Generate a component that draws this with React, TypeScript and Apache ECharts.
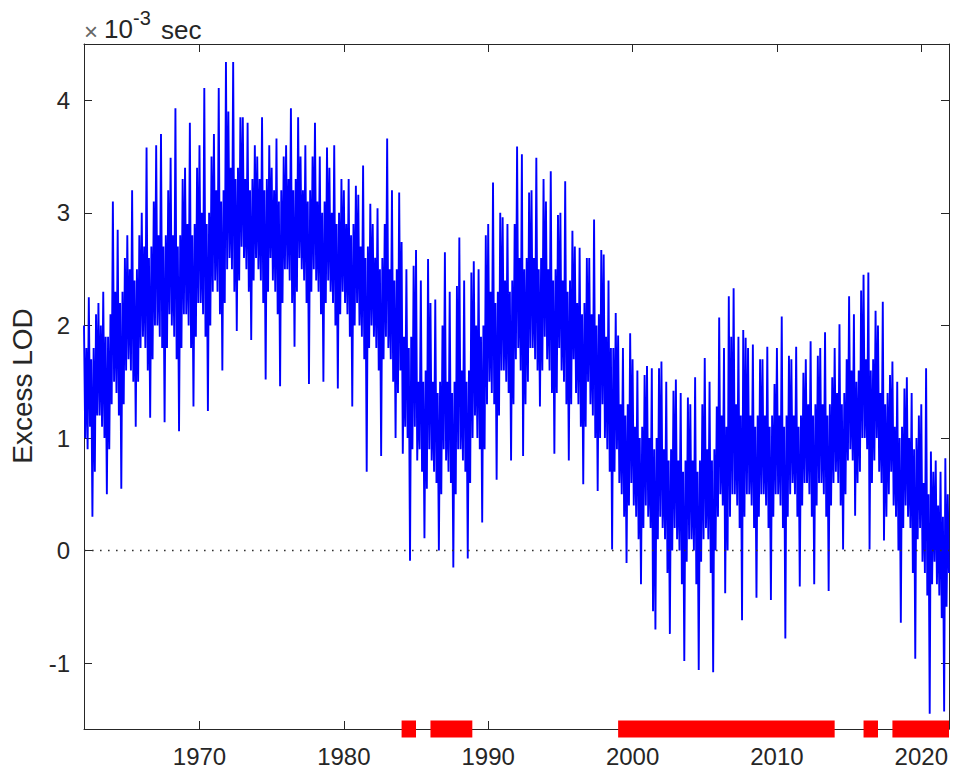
import React, { useEffect, useRef } from "react";
import * as echarts from "echarts";

// Excess LOD (x 10^-3 s), 12 readings per year starting 1962.0
const startYear = 1962;
const lod1960s = [
  2.0, 1.0, 1.8, 0.9, 2.25, 1.1, 1.7, 0.3, 1.8, 0.7, 2.1, 1.2,
  2.2, 1.2, 2.0, 1.1, 2.3, 1.0, 1.9, 0.5, 1.9, 0.9, 2.1, 1.3,
  3.1, 1.5, 2.3, 1.4, 2.85, 1.2, 2.2, 0.55, 2.3, 1.3, 2.6, 1.6,
  2.8, 1.7, 2.5, 1.6, 3.2, 1.5, 2.4, 1.1, 2.5, 1.5, 2.8, 1.8,
  3.0, 1.9, 2.7, 1.8, 3.58, 1.6, 2.6, 1.18, 2.7, 1.7, 3.1, 2.0,
  3.6, 2.0, 2.8, 1.9, 3.7, 1.8, 2.7, 1.14, 2.8, 1.8, 3.2, 2.1,
  3.49, 2.0, 2.8, 1.9, 3.93, 1.7, 2.7, 1.06, 2.8, 1.8, 3.3, 2.1,
  3.4, 2.1, 2.9, 2.0, 3.8, 1.8, 2.8, 1.28, 2.9, 1.9, 3.4, 2.2,
];
const lod1970s = [
  3.6, 2.2, 3.0, 2.1, 4.11, 1.9, 2.9, 1.24, 3.0, 2.0, 3.5, 2.3,
  3.7, 2.4, 3.2, 2.3, 4.11, 2.1, 3.1, 1.6, 3.2, 2.2, 4.34, 2.5,
  3.9, 2.6, 3.4, 2.5, 4.34, 2.3, 3.3, 1.95, 3.4, 2.4, 3.85, 2.7,
  3.85, 2.6, 3.3, 2.5, 3.8, 2.3, 3.2, 1.87, 3.3, 2.4, 3.6, 2.6,
  3.5, 2.5, 3.3, 2.4, 3.85, 2.2, 3.2, 1.52, 3.3, 2.3, 3.6, 2.6,
  3.4, 2.4, 3.2, 2.3, 3.66, 2.1, 3.1, 1.46, 3.2, 2.2, 3.5, 2.5,
  3.6, 2.5, 3.3, 2.4, 3.93, 2.2, 3.2, 1.81, 3.3, 2.3, 3.85, 2.6,
  3.5, 2.5, 3.2, 2.4, 3.6, 2.2, 3.1, 1.48, 3.2, 2.3, 3.5, 2.5,
  3.8, 2.4, 3.1, 2.3, 3.5, 2.1, 3.0, 1.5, 3.1, 2.2, 3.58, 2.4,
  3.4, 2.3, 3.0, 2.2, 3.6, 2.0, 2.9, 1.44, 3.0, 2.1, 3.3, 2.3,
];
const lod1980s = [
  3.2, 2.2, 2.9, 2.1, 3.3, 1.9, 2.8, 1.28, 2.9, 2.0, 3.24, 2.2,
  3.16, 2.0, 2.7, 1.9, 3.42, 1.7, 2.6, 0.7, 2.7, 1.8, 3.08, 2.0,
  2.9, 1.9, 2.6, 1.8, 3.04, 1.6, 2.5, 0.84, 2.6, 1.7, 2.9, 1.9,
  3.66, 1.8, 2.5, 1.7, 3.2, 1.5, 2.4, 1.0, 2.5, 1.4, 3.18, 1.6,
  2.74, 0.86, 1.9, 1.1, 2.5, 1.0, 1.8, -0.09, 1.9, 0.9, 2.53, 1.1,
  2.67, 0.8, 1.5, 0.9, 2.4, 0.7, 1.5, 0.11, 1.6, 0.55, 2.59, 0.9,
  2.2, 0.8, 1.5, 0.7, 2.23, 0.6, 1.4, 0.0, 1.5, 0.5, 2.0, 0.9,
  2.65, 0.8, 1.5, 0.7, 2.3, 0.6, 1.4, -0.15, 1.5, 0.5, 2.35, 0.9,
  2.78, 0.9, 1.6, 0.8, 2.4, 0.7, 1.5, -0.07, 1.6, 0.6, 2.47, 1.0,
  2.57, 1.2, 2.0, 1.0, 2.5, 0.9, 1.9, 0.25, 2.0, 0.9, 2.8, 1.3,
];
const lod1990s = [
  2.9, 1.5, 2.3, 1.4, 3.27, 1.3, 2.2, 0.63, 2.3, 1.2, 3.0, 1.6,
  2.96, 1.6, 2.4, 1.5, 2.9, 1.4, 2.3, 0.8, 2.4, 1.3, 2.9, 1.7,
  3.59, 1.8, 2.6, 1.6, 3.52, 0.84, 2.5, 1.3, 2.6, 1.5, 3.18, 1.8,
  3.2, 1.8, 2.6, 1.7, 3.49, 1.6, 2.5, 1.28, 2.6, 1.6, 3.3, 1.9,
  3.1, 1.7, 2.5, 1.6, 3.37, 1.4, 2.4, 0.86, 2.5, 1.4, 2.98, 1.8,
  3.0, 1.6, 2.4, 1.5, 3.28, 1.3, 2.3, 0.8, 2.4, 1.3, 2.84, 1.7,
  2.7, 1.4, 2.2, 1.3, 2.69, 1.1, 2.1, 0.59, 2.2, 1.1, 2.6, 1.5,
  2.6, 1.3, 2.1, 1.2, 2.94, 1.0, 2.0, 0.53, 2.1, 1.0, 2.67, 1.3,
  2.63, 1.0, 1.9, 0.9, 2.4, 0.7, 1.8, 0.01, 1.8, 0.7, 2.11, 0.9,
  1.91, 0.6, 1.3, 0.5, 1.8, 0.3, 1.2, -0.11, 1.3, 0.4, 1.93, 0.6,
];
const lod2000s = [
  1.7, 0.4, 1.1, 0.3, 1.6, 0.1, 1.0, -0.3, 1.1, 0.2, 1.56, 0.4,
  1.64, 0.3, 1.0, 0.2, 1.62, -0.54, 0.9, -0.7, 1.0, 0.1, 1.62, 0.3,
  1.68, 0.2, 0.9, 0.1, 1.5, -0.2, 0.8, -0.74, 0.9, 0.0, 1.42, 0.2,
  1.52, 0.1, 0.8, 0.0, 1.4, -0.3, 0.7, -0.98, 0.8, -0.1, 1.36, 0.1,
  1.3, 0.1, 0.8, 0.0, 1.54, -0.3, 0.7, -1.06, 0.8, -0.1, 1.3, 0.1,
  1.71, 0.2, 0.9, 0.1, 1.5, -0.2, 0.8, -1.08, 0.9, 0.0, 1.28, 0.3,
  2.07, 0.5, 1.2, 0.4, 1.8, -0.38, 1.1, 0.0, 2.26, 0.3, 1.9, 0.5,
  2.33, 0.5, 1.3, 0.4, 1.9, 0.2, 1.2, -0.62, 1.96, 0.3, 1.89, 0.5,
  1.8, 0.5, 1.2, 0.4, 1.83, 0.2, 1.1, -0.42, 1.2, 0.3, 1.7, 0.5,
  1.7, 0.5, 1.2, 0.4, 1.81, 0.2, 1.1, -0.44, 1.2, 0.3, 1.48, 0.5,
];
const lod2010s = [
  1.8, 0.5, 1.2, 0.4, 2.08, 0.2, 1.1, -0.78, 1.2, 0.3, 1.73, 0.5,
  1.7, 0.6, 1.2, 0.5, 1.81, 0.3, 1.1, -0.32, 1.2, 0.4, 1.58, 0.6,
  1.7, 0.6, 1.3, 0.5, 1.86, 0.3, 1.2, -0.3, 1.3, 0.4, 1.73, 0.6,
  1.8, 0.6, 1.3, 0.5, 1.94, 0.3, 1.2, -0.36, 1.3, 0.4, 1.54, 0.6,
  1.8, 0.7, 1.4, 0.6, 2.01, 0.4, 1.3, 0.01, 1.4, 0.5, 1.7, 0.8,
  2.26, 0.9, 1.6, 0.8, 2.1, 0.31, 1.5, 0.6, 1.6, 0.7, 2.31, 1.0,
  2.45, 1.0, 1.7, 0.9, 2.47, 0.01, 1.6, 0.6, 1.7, 0.8, 2.13, 1.0,
  2.0, 0.7, 1.4, 0.6, 2.21, 0.09, 1.3, 0.3, 1.4, 0.5, 1.56, 0.7,
  1.68, 0.4, 1.1, 0.3, 1.5, 0.0, 1.0, -0.64, 1.1, 0.2, 1.44, 0.4,
  1.54, 0.3, 1.0, 0.2, 1.4, -0.2, 0.9, -0.96, 1.0, 0.1, 1.2, 0.2,
];
const lod2020s = [
  1.3, -0.1, 0.6, -0.2, 1.62, -0.4, 0.5, -1.45, 0.88, -0.3, 0.7, -0.1,
  0.8, -0.3, 0.4, -0.4, 0.7, -0.6, 0.3, -1.43, 0.82, -0.5, 0.5, -0.2,
];

// periods marked in red along the bottom axis (years)
const redPeriods = [
  [1984.0, 1985.0],
  [1986.0, 1988.9],
  [1999.0, 2014.0],
  [2016.0, 2017.0],
  [2018.0, 2021.92],
];

const xTicks = [1970, 1980, 1990, 2000, 2010, 2020];
const yTicks = [-1, 0, 1, 2, 3, 4];
const xMin = 1962;
const xMax = 2021.92;
const yMin = -1.585;
const yMax = 4.5;

const FONT = "'Liberation Sans', Arial, Helvetica, sans-serif";
const AXIS_COLOR = "#262626";

export default function App() {
  const ref = useRef<HTMLDivElement>(null);

  useEffect(() => {
    if (!ref.current) return;
    const chart = echarts.init(ref.current, null, { renderer: "svg" });

    const values = [
      ...lod1960s,
      ...lod1970s,
      ...lod1980s,
      ...lod1990s,
      ...lod2000s,
      ...lod2010s,
      ...lod2020s,
    ];
    const lodData = values.map((v, i) => [startYear + i / 12, v]);

    const axisCommon = (ticks: number[]) => ({
      type: "value" as const,
      splitLine: { show: false },
      axisLine: { show: true, onZero: false, lineStyle: { color: AXIS_COLOR, width: 1 } },
      axisTick: {
        show: true,
        inside: true,
        length: 8,
        customValues: ticks,
        lineStyle: { color: AXIS_COLOR, width: 1 },
      },
    });

    const redSeries = redPeriods.map((p) => ({
      type: "line",
      data: [
        [p[0], yMin],
        [p[1], yMin],
      ],
      symbol: "none",
      clip: false,
      silent: true,
      z: 5,
      lineStyle: { color: "#ff0000", width: 17, cap: "butt" },
    }));

    const txt = (text: string, x: number, y: number, size: number, fill = AXIS_COLOR) => ({
      type: "text",
      x,
      y,
      style: {
        text,
        fontSize: size,
        fontFamily: FONT,
        fill,
        align: "left",
        verticalAlign: "middle",
        textAlign: "left",
        textVerticalAlign: "middle",
      },
    });

    chart.setOption({
      animation: false,
      backgroundColor: "#ffffff",
      grid: { left: 84, top: 44, width: 865, height: 685, containLabel: false },
      xAxis: [
        {
          ...axisCommon(xTicks),
          position: "bottom",
          min: xMin,
          max: xMax,
          axisLabel: {
            customValues: xTicks,
            formatter: (v: number) => String(v),
            fontSize: 24,
            color: AXIS_COLOR,
            fontFamily: FONT,
            margin: 15,
          },
        },
        {
          ...axisCommon(xTicks),
          position: "top",
          min: xMin,
          max: xMax,
          axisLabel: { show: false },
        },
      ],
      yAxis: [
        {
          ...axisCommon(yTicks),
          position: "left",
          min: yMin,
          max: yMax,
          axisLabel: {
            customValues: yTicks,
            formatter: (v: number) => String(v),
            fontSize: 24,
            color: AXIS_COLOR,
            fontFamily: FONT,
            margin: 14,
          },
        },
        {
          ...axisCommon(yTicks),
          position: "right",
          min: yMin,
          max: yMax,
          axisLabel: { show: false },
        },
      ],
      series: [
        {
          type: "line",
          data: lodData,
          symbol: "none",
          showSymbol: false,
          silent: true,
          z: 2,
          lineStyle: { color: "#0000ff", width: 1.9 },
        },
        {
          type: "line",
          data: [
            [xMin, 0],
            [xMax, 0],
          ],
          symbol: "none",
          silent: true,
          z: 3,
          lineStyle: { color: "#333333", width: 1.6, type: [1.6, 6.4] },
        },
        ...redSeries,
      ],
      graphic: [
        {
          type: "text",
          x: 22,
          y: 386,
          rotation: Math.PI / 2,
          style: {
            text: "Excess LOD",
            fontSize: 28,
            fontFamily: FONT,
            fill: AXIS_COLOR,
            align: "center",
            verticalAlign: "middle",
            textAlign: "center",
            textVerticalAlign: "middle",
          },
        },
        txt("×", 84, 31, 24, "#666666"),
        txt("10", 104, 29, 26),
        txt("-3", 133, 18, 20),
        txt("sec", 161, 30, 26),
      ],
    });

    return () => chart.dispose();
  }, []);

  return (
    <div
      ref={ref}
      style={{ position: "fixed", left: 0, top: 0, width: 954, height: 773, background: "#fff" }}
    />
  );
}
